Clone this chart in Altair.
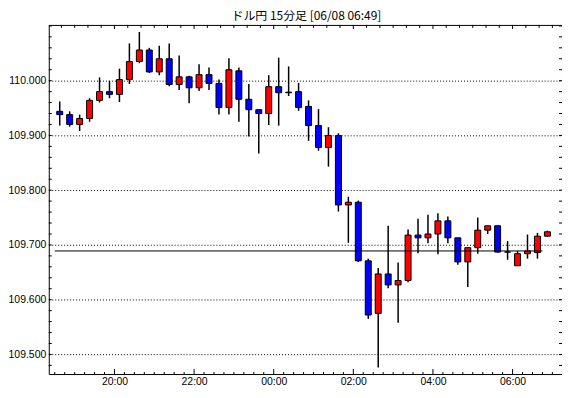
import altair as alt
import pandas as pd

# ---- data ----
TITLE = "ドル円 15分足 [06/08 06:49]"
START = "2021-06-07 18:30"          # first 15-minute bar
N_BARS = 50
opens = [109.944, 109.938, 109.920, 109.931, 109.964, 109.980, 109.975, 110.002, 110.035, 110.056,
         110.016, 110.040, 109.993, 110.007, 109.987, 110.011, 109.995, 109.951, 110.018, 109.966,
         109.947, 109.940, 109.989, 109.978, 109.980, 109.953, 109.918, 109.878, 109.900, 109.773,
         109.778, 109.671, 109.575, 109.647, 109.627, 109.635, 109.718, 109.713, 109.720, 109.744,
         109.713, 109.669, 109.695, 109.727, 109.735, 109.687, 109.662, 109.684, 109.686, 109.716]
highs = [109.962, 109.944, 109.938, 109.968, 110.006, 110.000, 110.022, 110.068, 110.089, 110.060,
         110.064, 110.068, 110.046, 110.009, 110.030, 110.024, 110.002, 110.041, 110.024, 109.994,
         109.947, 110.010, 110.042, 110.026, 109.996, 109.964, 109.948, 109.915, 109.904, 109.788,
         109.781, 109.675, 109.658, 109.735, 109.668, 109.728, 109.748, 109.755, 109.758, 109.752,
         109.713, 109.695, 109.750, 109.735, 109.736, 109.707, 109.689, 109.719, 109.722, 109.726]
lows = [109.918, 109.916, 109.908, 109.925, 109.960, 109.968, 109.961, 109.994, 110.032, 110.014,
        110.010, 109.990, 109.983, 109.959, 109.981, 109.983, 109.938, 109.938, 109.925, 109.898,
        109.867, 109.919, 109.918, 109.972, 109.945, 109.890, 109.872, 109.843, 109.761, 109.704,
        109.669, 109.565, 109.476, 109.621, 109.558, 109.632, 109.685, 109.703, 109.683, 109.703,
        109.664, 109.623, 109.684, 109.720, 109.686, 109.673, 109.662, 109.675, 109.675, 109.715]
closes = [109.938, 109.920, 109.931, 109.964, 109.980, 109.975, 110.002, 110.035, 110.056, 110.016,
          110.040, 109.993, 110.007, 109.987, 110.011, 109.995, 109.951, 110.020, 109.966, 109.947,
          109.940, 109.989, 109.978, 109.979, 109.951, 109.918, 109.878, 109.900, 109.773, 109.778,
          109.671, 109.572, 109.647, 109.627, 109.635, 109.718, 109.713, 109.720, 109.744, 109.713,
          109.669, 109.695, 109.727, 109.735, 109.687, 109.687, 109.684, 109.689, 109.716, 109.724]
CURRENT = 109.689
y_labels = [109.5, 109.6, 109.7, 109.8, 109.9, 110.0]
x_labels = ["20:00", "22:00", "00:00", "02:00", "04:00", "06:00"]
Y_MIN, Y_MAX = 109.4642, 110.1018

# ---- build tables ----
times = pd.date_range(START, periods=N_BARS, freq="15min")
base = pd.Timestamp("2021-06-07 18:00")
mins = [(t - base).total_seconds() / 60 for t in times]
df = pd.DataFrame({"start": mins, "open": opens, "high": highs, "low": lows, "close": closes})
df["mid"] = df["start"] + 7.5
df["dir"] = ["up" if c >= o else "down" for o, c in zip(opens, closes)]

X_MIN, X_MAX = 21, 794.5
W, H = 516, 351
xs = alt.Scale(domain=[X_MIN, X_MAX], nice=False, zero=False, padding=0)
ys = alt.Scale(domain=[Y_MIN, Y_MAX], nice=False, zero=False, padding=0)

label_vals = [120 * (i + 1) for i in range(len(x_labels))]
label_expr = " : ".join(f"datum.value == {v} ? '{s}'" for v, s in zip(label_vals, x_labels)) + " : ''"

lab_font = "Liberation Sans"
LFS = 10.5

wick = alt.Chart(df).mark_rule(color="black", strokeWidth=1.5).encode(
    x=alt.X("mid:Q", scale=xs,
            axis=alt.Axis(values=label_vals, labelExpr=label_expr, ticks=False, domain=False,
                          grid=False, title=None, labelFont=lab_font, labelFontSize=LFS,
                          labelColor="black", labelPadding=3)),
    y=alt.Y("low:Q", scale=ys,
            axis=alt.Axis(values=y_labels, format=".3f", ticks=False, domain=False, grid=True,
                          gridDash=[1, 2], gridColor="black", gridOpacity=1, title=None,
                          labelFont=lab_font, labelFontSize=LFS, labelColor="black",
                          labelPadding=3)),
    y2="high:Q",
)

body = alt.Chart(df).mark_bar(size=6, stroke="black", strokeWidth=1).encode(
    x=alt.X("mid:Q", scale=xs),
    y=alt.Y("open:Q", scale=ys),
    y2="close:Q",
    color=alt.Color("dir:N", scale=alt.Scale(domain=["up", "down"], range=["#ff0000", "#0000ff"]),
                    legend=None),
)

cur = pd.DataFrame({"x1": [mins[0]], "x2": [mins[-1]], "y": [CURRENT]})
cur_line = alt.Chart(cur).mark_rule(color="black", strokeWidth=1).encode(
    x=alt.X("x1:Q", scale=xs), x2="x2:Q", y=alt.Y("y:Q", scale=ys)
)

# tick marks (inward), drawn as rules
bt = pd.DataFrame({"m": list(range(30, 781, 15))})
bt["major"] = bt["m"] % 120 == 0
bottom_minor = alt.Chart(bt[~bt["major"]]).mark_rule(color="black").encode(
    x=alt.X("m:Q", scale=xs), y=alt.value(H), y2=alt.value(H - 2))
bottom_major = alt.Chart(bt[bt["major"]]).mark_rule(color="black").encode(
    x=alt.X("m:Q", scale=xs), y=alt.value(H), y2=alt.value(H - 5))
tt = pd.DataFrame({"m": list(range(40, 781, 20))})
tt["major"] = tt["m"] % 120 == 0
top_minor = alt.Chart(tt[~tt["major"]]).mark_rule(color="black").encode(
    x=alt.X("m:Q", scale=xs), y=alt.value(0), y2=alt.value(3))
top_major = alt.Chart(tt[tt["major"]]).mark_rule(color="black").encode(
    x=alt.X("m:Q", scale=xs), y=alt.value(0), y2=alt.value(4))
yt = pd.DataFrame({"v": [round(109.48 + 0.02 * i, 2) for i in range(32)]})
yt = yt[(yt["v"] > Y_MIN) & (yt["v"] < Y_MAX)]
left_t = alt.Chart(yt).mark_rule(color="black").encode(
    y=alt.Y("v:Q", scale=ys), x=alt.value(0), x2=alt.value(3))
right_t = alt.Chart(yt).mark_rule(color="black").encode(
    y=alt.Y("v:Q", scale=ys), x=alt.value(W), x2=alt.value(W - 3))

title_txt = alt.Chart(pd.DataFrame({"t": [TITLE]})).mark_text(
    font="Noto Sans CJK JP", fontSize=12, color="black", align="center", baseline="middle"
).encode(text="t:N", x=alt.value(W / 2 + 1), y=alt.value(-9))

chart = alt.layer(
    wick, body, cur_line, bottom_minor, bottom_major, top_minor, top_major, left_t, right_t,
    title_txt
).properties(
    width=W, height=H,
    autosize=alt.AutoSizeParams(type="none"),
    padding={"left": 41, "top": 16, "right": 0, "bottom": 13},
    background="white",
).configure_view(stroke="black", strokeWidth=1)

chart.save("out.html", embed_options={"renderer": "svg", "actions": False})
